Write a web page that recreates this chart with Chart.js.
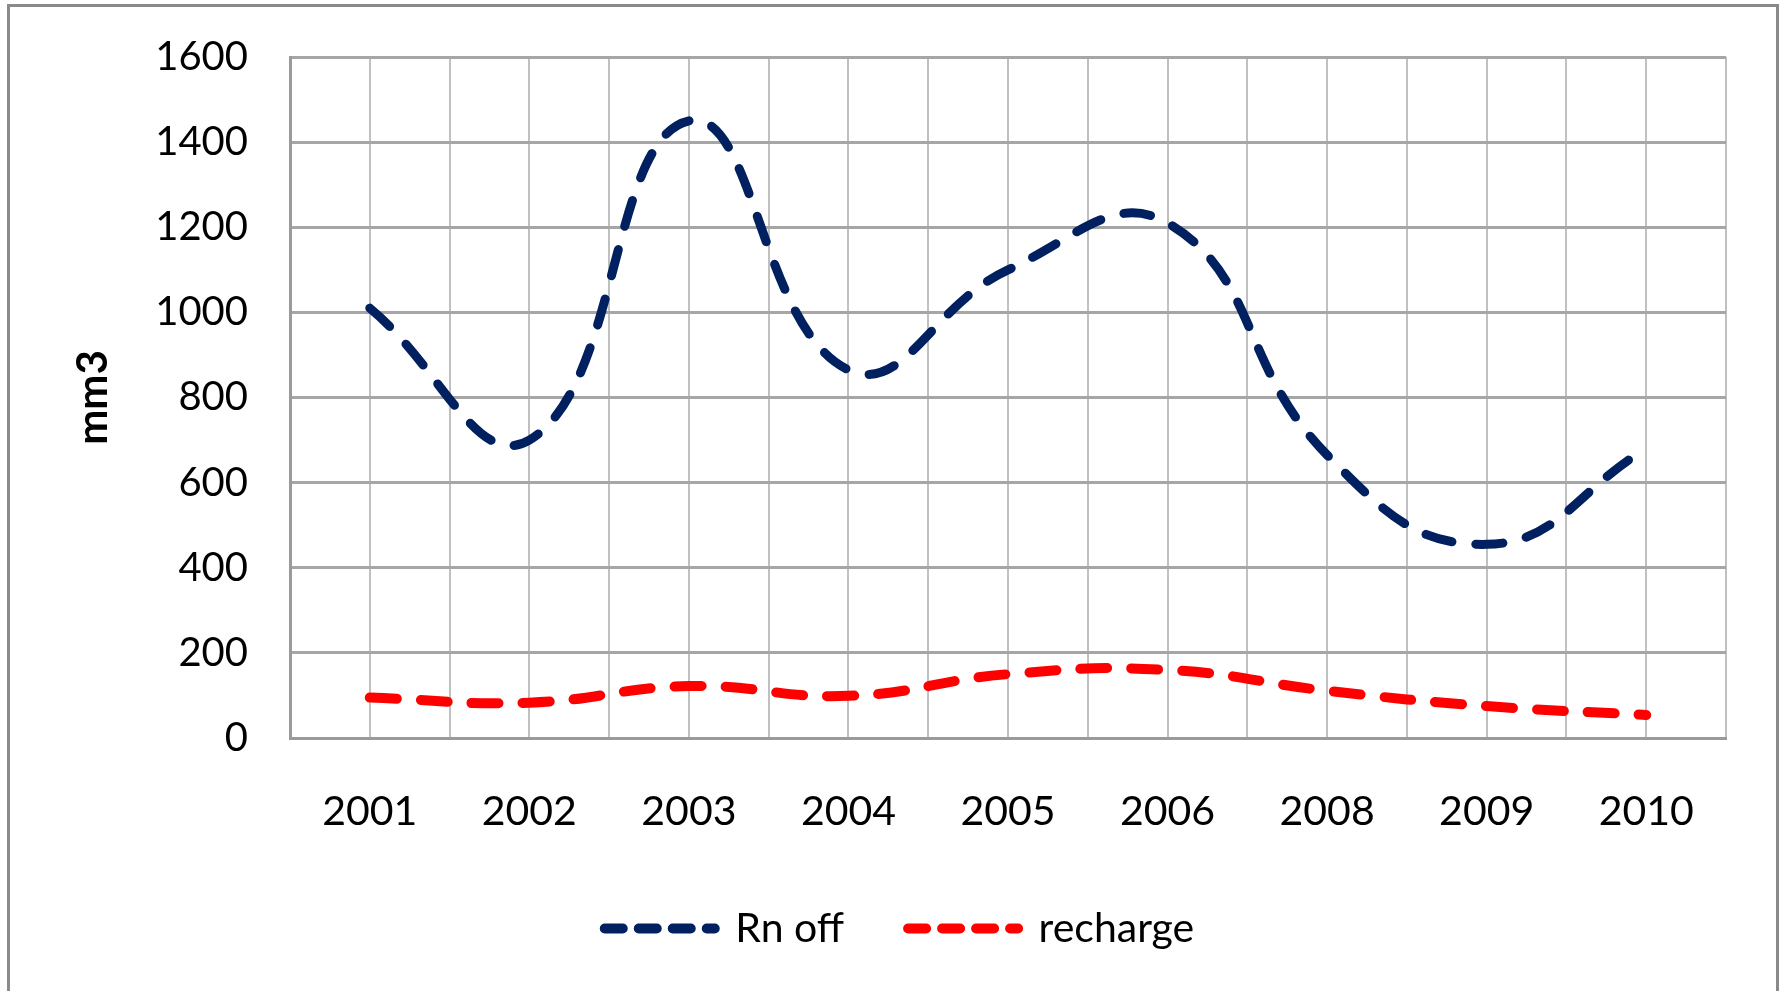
<!DOCTYPE html>
<html>
<head>
<meta charset="utf-8">
<script src="https://cdn.jsdelivr.net/npm/chart.js@4.4.1/dist/chart.umd.min.js"></script>
<style>
    html, body { margin: 0; padding: 0; background: #fff; }
    #wrap { position: relative; width: 1783px; height: 991px; overflow: hidden; }
    #frame { position: absolute; left: 7px; top: 4px; width: 1766px; height: 1010px; border: 3px solid #8a8a8a; }
    #chart { position: absolute; left: 0; top: 0; }
</style>
</head>
<body>
<div id="wrap">
    <div id="frame"></div>
    <canvas id="chart" width="1783" height="991"></canvas>
</div>
<script>
const years = ["2001", "2002", "2003", "2004", "2005", "2006", "2008", "2009", "2010"];
const rnOff = [1010, 700, 1450, 865, 1100, 1210, 665, 455, 680];
const recharge = [95, 83, 122, 99, 150, 160, 111, 75, 54];
const yTicks = [0, 200, 400, 600, 800, 1000, 1200, 1400, 1600];

const FONT = "Lato, 'Open Sans', sans-serif";

function toPoints(values) {
    return values.map((v, i) => ({ x: i + 0.5, y: v }));
}

const ctx = document.getElementById("chart").getContext("2d");

new Chart(ctx, {
    type: "line",
    data: {
        datasets: [
            {
                label: "Rn off",
                data: toPoints(rnOff),
                borderColor: "#002060",
                backgroundColor: "#002060",
                borderWidth: 9,
                borderDash: [27, 24],
                borderCapStyle: "round",
                tension: 0.45,
                pointRadius: 0,
                pointStyle: "line",
                fill: false
            },
            {
                label: "recharge",
                data: toPoints(recharge),
                borderColor: "#ff0000",
                backgroundColor: "#ff0000",
                borderWidth: 10,
                borderDash: [27, 24],
                borderCapStyle: "round",
                tension: 0.45,
                pointRadius: 0,
                pointStyle: "line",
                fill: false
            }
        ]
    },
    options: {
        responsive: false,
        animation: false,
        layout: { padding: { top: 57, right: 0, left: 16, bottom: 32 } },
        plugins: {
            tooltip: { enabled: false },
            legend: {
                position: "bottom",
                labels: {
                    usePointStyle: true,
                    pointStyleWidth: 110,
                    boxWidth: 80,
                    padding: 64,
                    color: "#000",
                    font: { family: FONT, size: 41 },
                    generateLabels: (chart) => {
                        const items = Chart.defaults.plugins.legend.labels.generateLabels(chart);
                        return items.map(it => Object.assign(it, { lineDash: [18, 16], lineCap: "round", lineWidth: 10 }));
                    }
                }
            }
        },
        scales: {
            x: {
                type: "linear",
                min: 0,
                max: years.length,
                afterBuildTicks: (scale) => {
                    const t = [];
                    for (let i = 0; i <= years.length * 2; i++) t.push({ value: i / 2 });
                    scale.ticks = t;
                },
                afterFit: (scale) => { scale.height = 106; },
                ticks: {
                    autoSkip: false,
                    maxRotation: 0,
                    padding: 49,
                    color: "#000",
                    font: { family: FONT, size: 41 },
                    callback: (v) => {
                        const i = v - 0.5;
                        return Number.isInteger(i) ? years[i] : "";
                    }
                },
                grid: { color: "#c0c0c0", lineWidth: 2, drawTicks: false },
                border: { color: "#9a9a9a", width: 3 }
            },
            y: {
                min: 0,
                max: 1600,
                afterBuildTicks: (scale) => { scale.ticks = yTicks.map(v => ({ value: v })); },
                afterFit: (scale) => {
                    scale.width = 274;
                    scale.paddingTop = 0;
                    scale.paddingBottom = 0;
                },
                ticks: {
                    padding: 42,
                    color: "#000",
                    font: { family: FONT, size: 40 },
                    callback: (v) => String(v)
                },
                grid: { color: "#a6a6a6", lineWidth: 3, drawTicks: false },
                border: { color: "#9a9a9a", width: 3 },
                title: {
                    display: true,
                    text: "mm3",
                    color: "#000",
                    font: { family: FONT, size: 42, weight: "bold" },
                    padding: { top: 52, bottom: 0 }
                }
            },
            // empty right-hand strip so the plot ends where the original's does
            yRight: {
                position: "right",
                min: 0,
                max: 1600,
                grid: { display: false, drawTicks: false },
                border: { display: false },
                ticks: { display: false },
                afterFit: (scale) => {
                    scale.width = 57;
                    scale.paddingTop = 0;
                    scale.paddingBottom = 0;
                }
            }
        }
    }
});
</script>
</body>
</html>
